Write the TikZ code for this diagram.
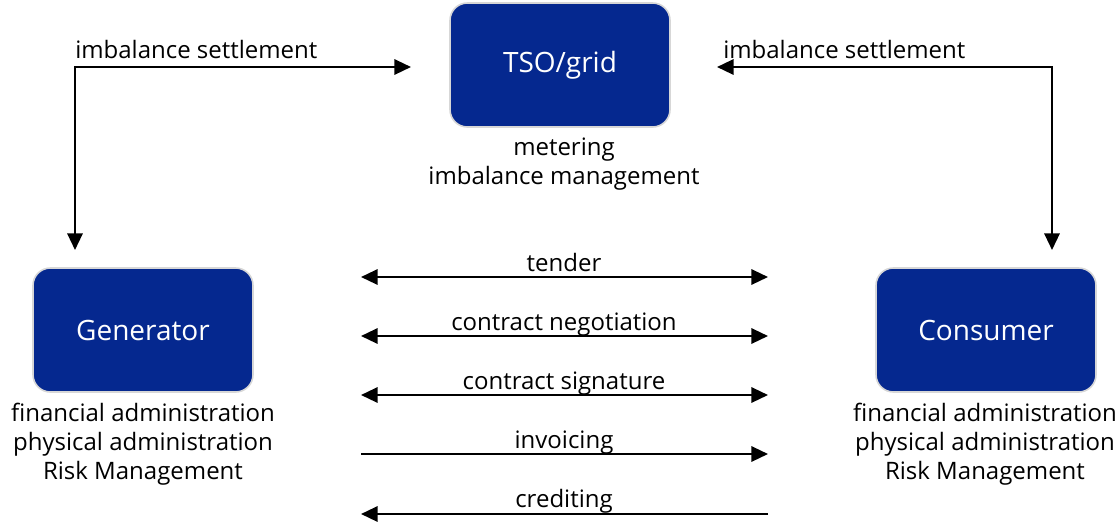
\documentclass[tikz,border=0pt]{standalone}
\usepackage{fontspec}
\setmainfont{Open Sans}
\usetikzlibrary{arrows.meta}
\definecolor{boxblue}{RGB}{5,40,143}
\definecolor{boxedge}{RGB}{215,215,215}
\begin{document}
\begin{tikzpicture}[x=0.75pt,y=-0.75pt,
  actor/.style={draw=boxedge,line width=1.2pt,fill=boxblue,rounded corners=13pt,
    minimum width=165pt,minimum height=93pt,inner sep=0pt,text=white,
    font=\fontsize{21}{25}\selectfont},
  lbl/.style={inner sep=0pt,anchor=base,font=\fontsize{18}{22}\selectfont},
  tip/.tip={Triangle[length=12.5pt,width=11.5pt]},
  conn/.style={line width=1.7pt,-tip},
  biconn/.style={line width=1.7pt,tip-tip}]
\useasboundingbox (0,0) rectangle (1120,522);
% actors
\node[actor] (tso) at (560,65) {TSO/grid};
\node[actor] (gen) at (143,330) {Generator};
\node[actor] (con) at (986,330) {Consumer};
% descriptions
\node[lbl] (tso1) at (564,155) {metering};
\node[lbl] (tso2) at (564,184) {imbalance management};
\node[lbl] (gen1) at (143,421) {financial administration};
\node[lbl] (gen2) at (143,450) {physical administration};
\node[lbl] (gen3) at (143,479) {Risk Management};
\node[lbl] (con1) at (985,421) {financial administration};
\node[lbl] (con2) at (985,450) {physical administration};
\node[lbl] (con3) at (985,479) {Risk Management};
% settlement connectors
\coordinate (gtop) at (75,250);
\coordinate (tsol) at (411,67);
\coordinate (ctop) at (1052,250);
\coordinate (tsor) at (717,67);
\draw[biconn] (gtop) |- (tsol);
\draw[biconn] (ctop) |- (tsor);
\node[lbl,anchor=base west] (setl) at (75,58) {imbalance settlement};
\node[lbl,anchor=base west] (setr) at (723,58) {imbalance settlement};
% trade connectors
\foreach \n/\y in {a/277,b/336,c/395,d/454,e/514}{
  \coordinate (l\n) at (361,\y);
  \coordinate (r\n) at (768,\y);
}
\draw[biconn] (la) -- (ra);
\draw[biconn] (lb) -- (rb);
\draw[biconn] (lc) -- (rc);
\draw[conn] (ld) -- (rd);
\draw[conn] (re) -- (le);
\node[lbl] (t1) at (564,271) {tender};
\node[lbl] (t2) at (564,330) {contract negotiation};
\node[lbl] (t3) at (564,389) {contract signature};
\node[lbl] (t4) at (564,448) {invoicing};
\node[lbl] (t5) at (564,507) {crediting};
\end{tikzpicture}
\end{document}
